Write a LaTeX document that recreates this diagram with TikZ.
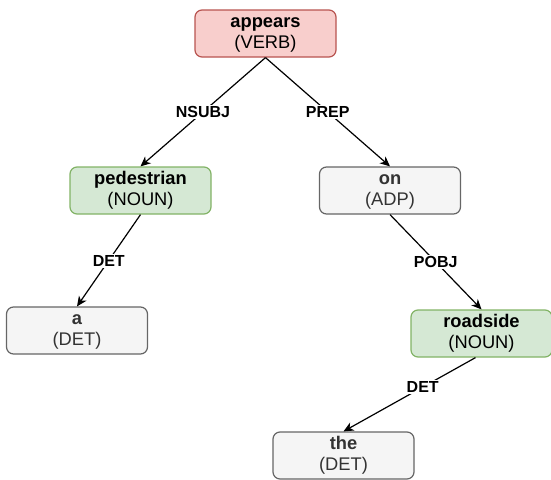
\documentclass[tikz,border=0pt]{standalone}
\usepackage{fontspec}
\setmainfont{Liberation Sans}
\usetikzlibrary{arrows.meta}
\definecolor{verbfill}{HTML}{F8CECC}
\definecolor{verbline}{HTML}{B85450}
\definecolor{nounfill}{HTML}{D5E8D4}
\definecolor{nounline}{HTML}{82B366}
\definecolor{otherfill}{HTML}{F5F5F5}
\definecolor{otherline}{HTML}{666666}
\definecolor{othertext}{HTML}{333333}
\newcommand{\wordpos}[2]{\textbf{#1}\strut\\#2\strut}
\tikzset{
  wordbox/.style={rounded corners=7pt, line width=1.2pt, minimum width=141pt, minimum height=47pt,
    align=center, inner sep=0pt, font=\fontsize{18.3}{21.5}\selectfont},
  verbbox/.style={wordbox, draw=verbline, fill=verbfill},
  nounbox/.style={wordbox, draw=nounline, fill=nounfill},
  otherbox/.style={wordbox, draw=otherline, fill=otherfill, text=othertext},
  deplabel/.style={fill=white, inner sep=1.5pt, font=\fontsize{16}{19}\selectfont\bfseries},
}
\begin{document}
\begin{tikzpicture}[x=1pt,y=-1pt,>={Stealth[length=10pt,width=9pt,inset=3pt]}]
\useasboundingbox (0,0) rectangle (551,479);
\node[verbbox] (appears) at (265.5,33.5) {\wordpos{appears}{(VERB)}};
\node[nounbox] (pedestrian) at (140.5,190.5) {\wordpos{pedestrian}{(NOUN)}};
\node[otherbox] (on) at (390,190.5) {\wordpos{on}{(ADP)}};
\node[otherbox] (a) at (77,330.5) {\wordpos{a}{(DET)}};
\node[nounbox] (roadside) at (481.5,333.5) {\wordpos{roadside}{(NOUN)}};
\node[otherbox] (the) at (343.5,455.5) {\wordpos{the}{(DET)}};
\draw[->, line width=1.2pt](appears.south)--node[deplabel]{NSUBJ}(pedestrian.north);
\draw[->, line width=1.2pt](appears.south)--node[deplabel]{PREP}(on.north);
\draw[->, line width=1.2pt](pedestrian.south)--node[deplabel]{DET}(a.north);
\draw[->, line width=1.2pt](on.south)--node[deplabel]{POBJ}(roadside.north);
\draw[->, line width=1.2pt]([xshift=-6pt]roadside.south)--node[deplabel, pos=.4]{DET}(the.north);
\end{tikzpicture}
\end{document}
